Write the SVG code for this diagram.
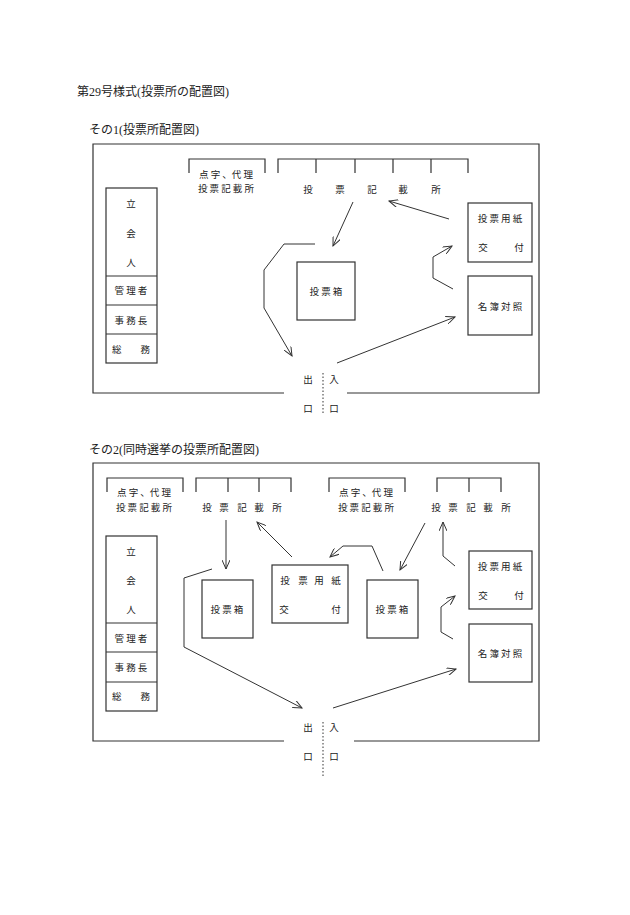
<svg xmlns="http://www.w3.org/2000/svg" width="630" height="915" viewBox="0 0 630 915">
<style>
.f{fill:none;stroke:#333;stroke-width:1.2}
.c{fill:none;stroke:#333;stroke-width:1}
.t{font-family:"Liberation Serif","Noto Sans CJK JP",serif;font-size:12px;fill:#222}
.l{font-family:"Noto Sans CJK JP",sans-serif;font-size:9.5px;fill:#222;text-anchor:middle;dominant-baseline:central}
.d{stroke:#333;stroke-width:1;stroke-dasharray:1.5 2}
</style>
<defs><marker id="a" markerWidth="10" markerHeight="8" refX="9" refY="4" orient="auto" markerUnits="userSpaceOnUse"><path d="M0,0 L9,4 L0,8" fill="none" stroke="#333" stroke-width="1"/></marker></defs>
<rect width="630" height="915" fill="#fff"/>
<text class="t" x="77" y="96">第29号様式(投票所の配置図)</text>

<g id="plan1">
<text class="t" x="89" y="134">その1(投票所配置図)</text>
<path class="f" d="M284,393 H93 V144 H539 V393 H347"/>
<g id="p1-staff"><rect class="f" x="106" y="188" width="51" height="175"/><path class="f" d="M106,276H157M106,305H157M106,334H157"/>
<text class="l" x="131" y="203">立</text><text class="l" x="131" y="233">会</text><text class="l" x="131" y="262">人</text>
<text class="l" x="131" y="290">管 理 者</text><text class="l" x="131" y="320">事 務 長</text><text class="l" x="131" y="349">総　　務</text></g>
<g id="p1-braille"><path class="f" d="M189,173V159H265V173"/><text class="l" x="226" y="174">点 字 、代 理</text><text class="l" x="226" y="188">投 票 記 載 所</text></g>
<g id="p1-booths"><path class="f" d="M278,173V159H468V173M316,159V173M355,159V173M393,159V173M431,159V173"/>
<text class="l" x="308" y="189">投</text><text class="l" x="340" y="189">票</text><text class="l" x="372" y="189">記</text><text class="l" x="403" y="189">載</text><text class="l" x="436" y="189">所</text></g>
<g id="p1-issue"><rect class="f" x="468" y="203" width="64" height="59"/><text class="l" x="500" y="218">投 票 用 紙</text><text class="l" x="483" y="247">交</text><text class="l" x="519" y="247">付</text></g>
<g id="p1-register"><rect class="f" x="468" y="276" width="64" height="59"/><text class="l" x="500" y="306">名 簿 対 照</text></g>
<g id="p1-box"><rect class="f" x="297" y="262" width="58" height="58"/><text class="l" x="326" y="291">投 票 箱</text></g>
<g id="p1-door"><line class="d" x1="323" y1="373" x2="323" y2="415"/><text class="l" x="308" y="379">出</text><text class="l" x="334" y="379">入</text><text class="l" x="308" y="408">口</text><text class="l" x="334" y="408">口</text></g>
<g id="p1-connectors">
<path class="c" marker-end="url(#a)" d="M353,202L333,246"/>
<path class="c" marker-end="url(#a)" d="M449,219L389,201"/>
<path class="c" marker-end="url(#a)" d="M315,244H284L264,270V308L292,356"/>
<path class="c" marker-end="url(#a)" d="M453,289L433,278V257L452,246"/>
<path class="c" marker-end="url(#a)" d="M337,363L455,317"/>
</g>
</g>

<g id="plan2">
<text class="t" x="89" y="454">その2(同時選挙の投票所配置図)</text>
<path class="f" d="M284,741 H93 V463 H539 V741 H354"/>
<g id="p2-staff"><rect class="f" x="106" y="536" width="51" height="175"/><path class="f" d="M106,623H157M106,652H157M106,682H157"/>
<text class="l" x="131" y="551">立</text><text class="l" x="131" y="580">会</text><text class="l" x="131" y="609">人</text>
<text class="l" x="131" y="638">管 理 者</text><text class="l" x="131" y="667">事 務 長</text><text class="l" x="131" y="696">総　　務</text></g>
<g id="p2-braille1"><path class="f" d="M107,492V478H183V492"/><text class="l" x="144" y="492">点 字 、代 理</text><text class="l" x="144" y="507">投 票 記 載 所</text></g>
<g id="p2-booths1"><path class="f" d="M196,492V478H291V492M228,478V492M259,478V492"/>
<text class="l" x="207" y="507">投</text><text class="l" x="224" y="507">票</text><text class="l" x="242" y="507">記</text><text class="l" x="259" y="507">載</text><text class="l" x="277" y="507">所</text></g>
<g id="p2-braille2"><path class="f" d="M329,492V478H405V492"/><text class="l" x="366" y="492">点 字 、代 理</text><text class="l" x="366" y="507">投 票 記 載 所</text></g>
<g id="p2-booths2"><path class="f" d="M437,492V478H501V492M469,478V492"/>
<text class="l" x="436" y="507">投</text><text class="l" x="453" y="507">票</text><text class="l" x="471" y="507">記</text><text class="l" x="488" y="507">載</text><text class="l" x="506" y="507">所</text></g>
<g id="p2-box1"><rect class="f" x="202" y="580" width="51" height="58"/><text class="l" x="227" y="609">投 票 箱</text></g>
<g id="p2-issue1"><rect class="f" x="272" y="565" width="76" height="58"/>
<text class="l" x="285" y="580">投</text><text class="l" x="303" y="580">票</text><text class="l" x="319" y="580">用</text><text class="l" x="336" y="580">紙</text>
<text class="l" x="284" y="609">交</text><text class="l" x="336" y="609">付</text></g>
<g id="p2-box2"><rect class="f" x="367" y="580" width="51" height="58"/><text class="l" x="392" y="609">投 票 箱</text></g>
<g id="p2-issue2"><rect class="f" x="469" y="551" width="63" height="58"/><text class="l" x="500" y="566">投 票 用 紙</text><text class="l" x="483" y="595">交</text><text class="l" x="519" y="595">付</text></g>
<g id="p2-register"><rect class="f" x="469" y="624" width="63" height="58"/><text class="l" x="500" y="653">名 簿 対 照</text></g>
<g id="p2-door"><line class="d" x1="323" y1="722" x2="323" y2="777"/><text class="l" x="308" y="727">出</text><text class="l" x="334" y="727">入</text><text class="l" x="308" y="756">口</text><text class="l" x="334" y="756">口</text></g>
<g id="p2-connectors">
<path class="c" marker-end="url(#a)" d="M226,520V569"/>
<path class="c" marker-end="url(#a)" d="M292,557L257,522"/>
<path class="c" marker-end="url(#a)" d="M383,571L372,546H343L330,557"/>
<path class="c" marker-end="url(#a)" d="M425,523L400,570"/>
<path class="c" marker-end="url(#a)" d="M455,566L443,556V522"/>
<path class="c" marker-end="url(#a)" d="M453,639L441,632V607L455,596"/>
<path class="c" marker-end="url(#a)" d="M212,569L184,578V647L302,708"/>
<path class="c" marker-end="url(#a)" d="M333,708L456,669"/>
</g>
</g>
</svg>
